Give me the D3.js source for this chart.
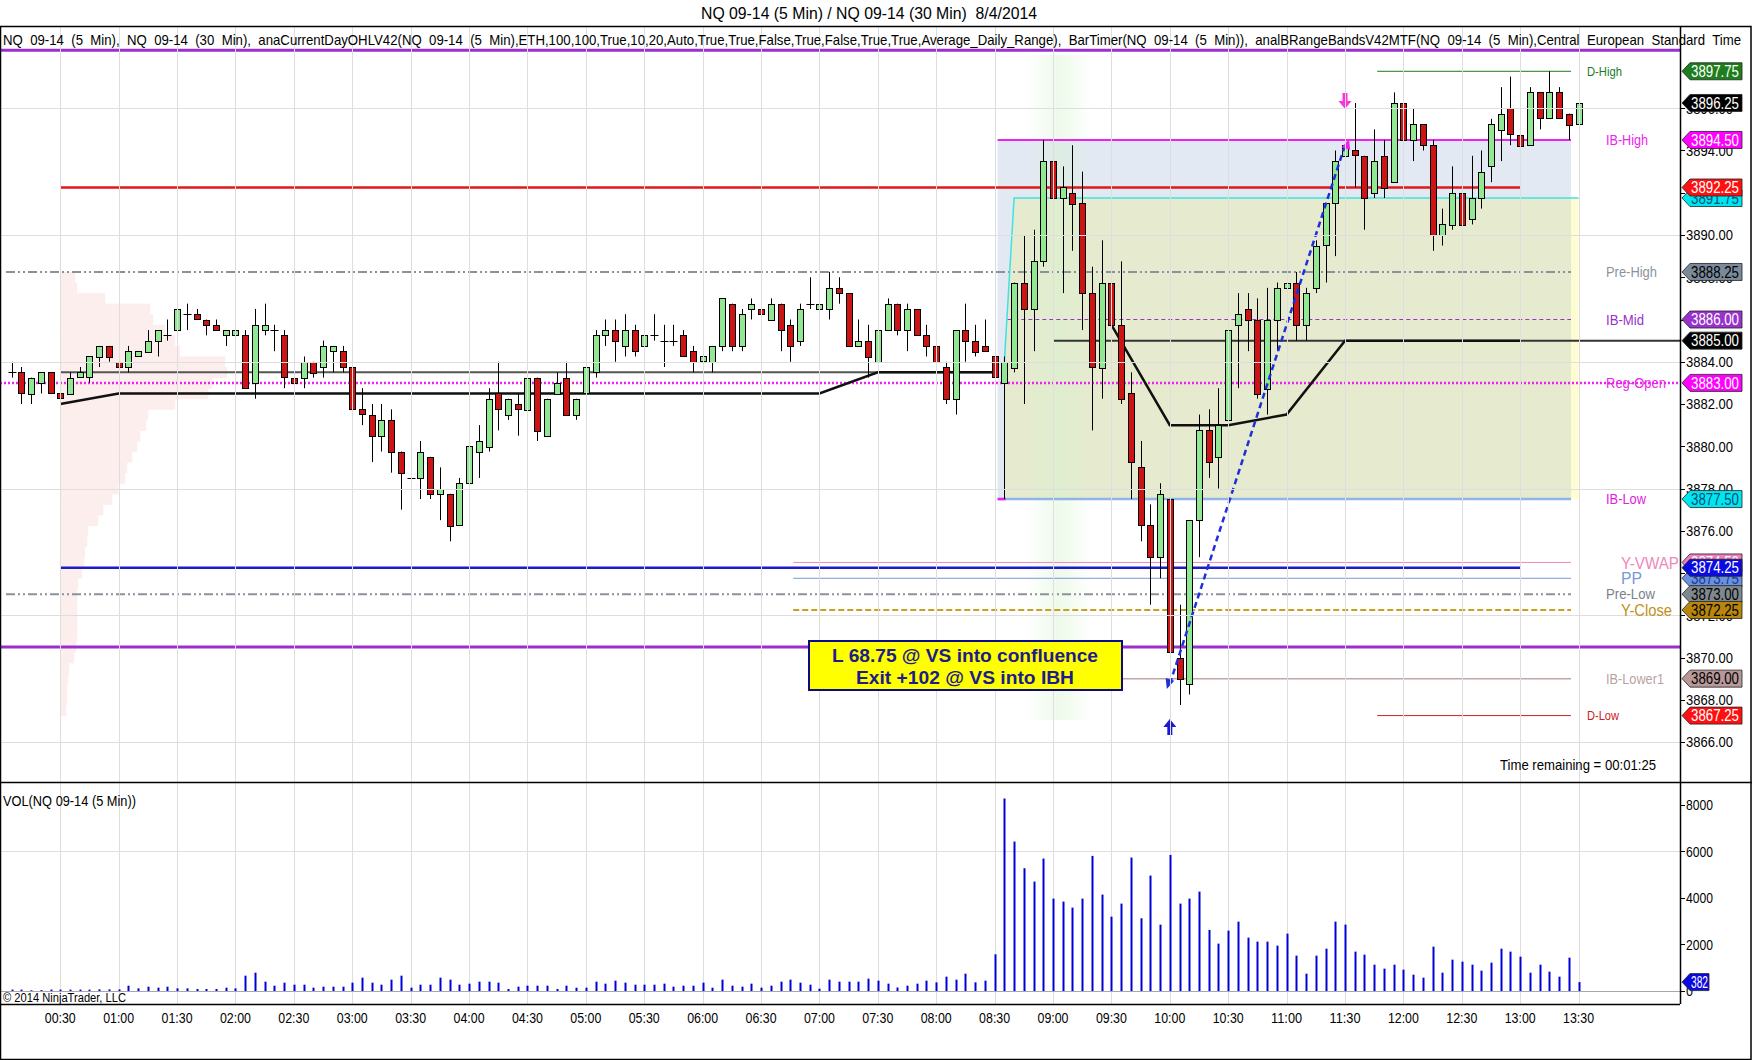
<!DOCTYPE html>
<html><head><meta charset="utf-8">
<script src="https://cdnjs.cloudflare.com/ajax/libs/d3/7.8.5/d3.min.js"></script>
<style>
html,body{margin:0;padding:0;background:#fff;}
svg{display:block;}
text{font-family:"Liberation Sans Narrow","Arial Narrow","Liberation Sans",Arial,sans-serif;}
</style></head><body>
<svg id="chart" width="1752" height="1060"></svg>
<script>
// ---------------- DATA ----------------
const times = [
"00:05","00:10","00:15","00:20","00:25","00:30","00:35","00:40","00:45","00:50","00:55","01:00",
"01:05","01:10","01:15","01:20","01:25","01:30","01:35","01:40","01:45","01:50","01:55","02:00",
"02:05","02:10","02:15","02:20","02:25","02:30","02:35","02:40","02:45","02:50","02:55","03:00",
"03:05","03:10","03:15","03:20","03:25","03:30","03:35","03:40","03:45","03:50","03:55","04:00",
"04:05","04:10","04:15","04:20","04:25","04:30","04:35","04:40","04:45","04:50","04:55","05:00",
"05:05","05:10","05:15","05:20","05:25","05:30","05:35","05:40","05:45","05:50","05:55","06:00",
"06:05","06:10","06:15","06:20","06:25","06:30","06:35","06:40","06:45","06:50","06:55","07:00",
"07:05","07:10","07:15","07:20","07:25","07:30","07:35","07:40","07:45","07:50","07:55","08:00",
"08:05","08:10","08:15","08:20","08:25","08:30","08:35","08:40","08:45","08:50","08:55","09:00",
"09:05","09:10","09:15","09:20","09:25","09:30","09:35","09:40","09:45","09:50","09:55","10:00",
"10:05","10:10","10:15","10:20","10:25","10:30","10:35","10:40","10:45","10:50","10:55","11:00",
"11:05","11:10","11:15","11:20","11:25","11:30","11:35","11:40","11:45","11:50","11:55","12:00",
"12:05","12:10","12:15","12:20","12:25","12:30","12:35","12:40","12:45","12:50","12:55","13:00",
"13:05","13:10","13:15","13:20","13:25","13:30"];

const open = [
3883.5,3883.5,3882.5,3883.0,3883.5,3882.5,3882.5,3883.25,3883.25,3884.25,3884.75,3884.0,
3883.75,3884.25,3884.5,3885.0,3885.25,3885.5,3886.25,3886.25,3886.0,3885.75,3885.25,3885.25,
3885.25,3883.0,3885.5,3885.5,3885.25,3883.25,3883.25,3884.0,3883.75,3884.5,3884.5,3883.75,
3881.75,3881.5,3880.5,3881.25,3879.75,3878.5,3878.5,3879.5,3877.75,3877.75,3876.25,3878.25,
3879.75,3880.0,3882.5,3881.5,3882.0,3881.75,3883.25,3880.5,3882.5,3883.25,3881.5,3882.5,
3883.5,3885.25,3885.5,3884.75,3885.5,3884.75,3885.25,3885.0,3885.0,3885.25,3884.5,3884.0,
3884.0,3884.75,3886.75,3884.75,3886.5,3886.5,3886.0,3886.75,3885.75,3885.0,3886.75,3886.5,
3886.5,3887.5,3887.25,3884.75,3885.0,3884.0,3885.5,3886.75,3885.5,3886.5,3885.25,3884.75,
3883.75,3882.25,3885.5,3885.0,3884.75,3884.25,3883.0,3883.75,3887.75,3886.5,3888.75,3893.5,
3891.75,3892.0,3891.5,3887.25,3883.75,3887.75,3885.75,3882.5,3879.0,3876.25,3874.75,3877.5,
3870.0,3868.75,3876.5,3880.75,3879.5,3881.25,3885.75,3886.5,3886.0,3882.75,3886.0,3887.5,
3887.75,3885.75,3887.5,3889.5,3891.5,3893.75,3894.0,3893.75,3892.0,3893.75,3892.5,3896.25,
3894.5,3895.25,3894.25,3890.0,3890.5,3892.0,3890.75,3891.75,3893.25,3895.0,3896.0,3894.75,
3894.25,3896.75,3895.5,3896.75,3895.75,3895.25];

const high = [
3884.0,3883.75,3883.25,3883.5,3883.5,3882.75,3883.5,3883.75,3884.25,3884.75,3884.75,3884.0,
3884.75,3884.5,3885.5,3885.5,3886.0,3886.75,3886.75,3886.5,3886.0,3886.0,3885.5,3885.75,
3885.5,3886.5,3886.75,3885.75,3885.5,3883.75,3884.25,3884.0,3885.0,3884.75,3884.75,3883.75,
3882.75,3882.0,3882.0,3881.75,3879.75,3879.5,3880.25,3879.5,3879.0,3877.75,3878.5,3880.25,
3881.0,3882.75,3884.0,3882.25,3882.5,3883.25,3883.25,3882.25,3883.5,3884.0,3882.25,3884.0,
3885.5,3886.0,3886.0,3886.25,3885.75,3886.0,3886.25,3885.75,3885.75,3885.5,3884.75,3884.5,
3884.75,3887.0,3886.75,3886.5,3887.0,3887.0,3887.0,3886.75,3886.0,3886.75,3888.0,3887.25,
3888.25,3888.0,3887.25,3886.0,3885.75,3885.5,3887.0,3886.75,3886.75,3886.5,3885.75,3885.0,
3884.0,3885.5,3886.75,3885.75,3886.0,3886.0,3884.25,3887.75,3890.0,3890.25,3894.5,3893.75,
3893.25,3894.25,3893.0,3888.5,3889.75,3890.5,3888.75,3883.5,3880.25,3877.25,3878.25,3877.5,
3872.5,3876.5,3881.5,3881.75,3882.75,3886.5,3887.25,3887.25,3887.0,3887.5,3887.75,3890.0,
3888.25,3887.5,3889.75,3891.5,3894.0,3895.75,3896.25,3893.75,3895.0,3894.5,3896.75,3896.5,
3896.0,3895.25,3894.5,3891.25,3893.25,3894.0,3893.75,3894.0,3895.5,3897.0,3897.5,3895.25,
3897.0,3896.75,3897.75,3897.0,3895.75,3896.5];

const low = [
3883.25,3882.0,3882.0,3882.5,3882.5,3882.25,3882.5,3883.25,3883.0,3883.75,3884.0,3883.5,
3883.5,3884.25,3884.5,3884.25,3885.0,3885.25,3885.5,3886.0,3885.25,3885.5,3884.75,3885.0,
3882.75,3882.25,3885.25,3884.5,3882.75,3882.25,3882.75,3883.25,3883.25,3883.5,3883.5,3881.25,
3881.0,3879.25,3879.75,3878.75,3877.0,3878.25,3877.5,3877.5,3876.5,3875.5,3876.25,3877.75,
3878.5,3879.75,3880.75,3881.25,3880.5,3881.75,3880.25,3880.5,3882.5,3881.5,3881.25,3882.5,
3883.25,3884.75,3884.0,3884.25,3884.25,3884.75,3885.0,3883.75,3884.75,3884.25,3883.5,3882.5,
3883.5,3884.5,3884.5,3884.5,3886.0,3886.0,3886.0,3884.5,3884.0,3884.75,3886.5,3886.5,
3886.0,3886.75,3884.75,3884.75,3883.25,3883.5,3885.5,3885.25,3884.5,3885.25,3884.25,3884.0,
3882.0,3881.5,3884.0,3884.25,3884.5,3883.25,3877.5,3883.5,3882.0,3884.5,3888.5,3889.5,
3887.25,3889.25,3885.5,3880.75,3882.25,3885.5,3882.0,3877.5,3875.5,3872.5,3873.75,3867.25,
3867.75,3868.25,3874.75,3878.5,3878.0,3880.75,3882.75,3884.5,3882.25,3881.5,3884.5,3886.75,
3885.0,3885.0,3887.25,3887.75,3889.0,3892.25,3892.25,3890.25,3891.75,3891.75,3892.5,3893.75,
3893.5,3894.0,3889.25,3889.5,3890.25,3890.25,3890.5,3891.25,3892.5,3893.5,3894.25,3892.75,
3894.25,3895.0,3895.5,3895.5,3894.5,3895.25];

const close = [
3883.5,3882.5,3883.25,3883.5,3882.5,3882.25,3883.25,3883.5,3884.25,3884.75,3884.25,3883.75,
3884.5,3884.5,3885.0,3885.5,3885.25,3886.5,3886.25,3886.0,3885.75,3885.5,3885.5,3885.5,
3882.75,3885.75,3885.75,3885.5,3883.25,3883.0,3884.0,3883.5,3884.75,3884.75,3883.75,3881.75,
3881.5,3880.5,3881.25,3879.75,3878.75,3878.5,3879.75,3877.75,3878.0,3876.25,3878.25,3880.0,
3880.25,3882.25,3881.75,3882.25,3881.75,3883.25,3880.75,3882.25,3883.0,3881.5,3882.25,3883.75,
3885.25,3885.5,3885.0,3885.5,3884.5,3885.25,3885.25,3885.0,3885.0,3884.25,3884.0,3884.25,
3884.75,3887.0,3884.75,3886.25,3886.75,3886.25,3886.75,3885.5,3884.75,3886.5,3886.75,3886.75,
3887.5,3887.25,3884.75,3885.0,3884.25,3885.5,3886.75,3885.5,3886.5,3885.25,3884.75,3884.0,
3882.25,3885.5,3885.0,3884.5,3884.5,3883.25,3884.0,3887.75,3886.5,3888.75,3893.5,3891.75,
3892.25,3891.5,3887.25,3883.75,3887.75,3885.75,3882.25,3879.25,3876.25,3874.75,3877.75,3870.25,
3869.0,3876.5,3880.75,3879.25,3881.0,3885.5,3886.25,3886.0,3882.5,3886.0,3887.5,3887.75,
3885.75,3887.25,3889.5,3891.5,3893.5,3894.25,3893.75,3891.75,3893.5,3892.25,3896.25,3894.5,
3895.25,3894.25,3890.0,3890.5,3892.0,3890.5,3891.75,3893.0,3895.25,3895.75,3894.75,3894.25,
3896.75,3895.5,3896.75,3895.5,3895.25,3896.25];

const volume = [
60,60,30,40,60,60,60,60,60,70,70,70,
229,114,186,143,186,114,114,86,86,86,143,114,
658,787,401,229,358,272,272,143,186,186,186,358,
572,358,272,487,658,143,272,272,572,487,272,315,
401,401,358,86,186,229,229,229,86,229,143,143,
401,315,444,358,272,272,272,315,186,229,229,358,
143,487,229,186,315,143,229,401,487,358,272,100,
487,401,401,401,529,444,315,150,229,315,444,372,
615,487,744,372,444,1574,8257,6411,5266,4694,5681,3964,
3835,3578,3964,5796,4136,3191,3749,5724,3120,4951,2848,5838,
3749,3964,4264,2619,2032,2590,2976,2290,2118,2118,1946,2461,
1517,744,1517,1817,2976,2848,1689,1560,1130,959,1130,916,
701,572,1903,787,1345,1259,1130,873,1216,1817,1689,1474,
787,1130,830,615,1431,382];

const timeLabels = ["00:30","01:00","01:30","02:00","02:30","03:00","03:30","04:00","04:30","05:00",
"05:30","06:00","06:30","07:00","07:30","08:00","08:30","09:00","09:30","10:00","10:30","11:00",
"11:30","12:00","12:30","13:00","13:30"];
const priceTicks = [3866,3868,3870,3872,3874,3876,3878,3880,3882,3884,3886,3888,3890,3892,3894,3896];
const priceGrid = [3866,3872,3878,3884,3890,3896];
const volTicks = [0,2000,4000,6000,8000];
const volGrid = [6000];

// key levels (name, price)
const levelNames  = ["D-High","IB-High","Pre-High","IB-Mid","Reg-Open","IB-Low","Y-VWAP","PP","Pre-Low","Y-Close","IB-Lower1","D-Low"];
const levelPrices = [3897.75,3894.50,3888.25,3886.00,3883.00,3877.50,3874.50,3873.75,3873.00,3872.25,3869.00,3867.25];
const ibHigh = 3894.50, ibLow = 3877.50, ibBand = 3891.75, ibBandStart = 3884.0;
const tf30Prices = [3892.25, 3874.25];            // red / blue 30-min lines
const adrPrices = [3898.75, 3870.50];             // purple ADR lines
const pivotLine = 3885.00;
const lineATimes = ["00:30","01:00","07:00","07:30","08:30"], lineAValues = [3882.0,3882.5,3882.5,3883.5,3883.5];
const lineBTimes = ["00:30","08:30"], lineBValues = [3883.5,3883.5];
const lineCTimes = ["09:30","10:00","10:30","11:00","11:30","13:00"], lineCValues = [3885.75,3881.0,3881.0,3881.5,3885.0,3885.0];
const tradeTimes = ["10:00","11:30"], tradePrices = [3868.75,3894.25];
const profilePrices = [3888,3887.5,3887,3886.5,3886,3885.5,3885,3884.5,3884,3883.5,3883,3882.5,3882,3881.5,3881,
 3880.5,3880,3879.5,3879,3878.5,3878,3877.5,3877,3876.5,3876,3875.5,3875,3874.5,3874,3873.5,3873,3872.5,3872,
 3871.5,3871,3870.5,3870,3869.5,3869,3868.5,3868,3867.5];
const profileVolume = [15,17,45,90,93,105,115,120,165,167,152,148,115,88,86,80,77,72,67,65,58,52,43,38,28,27,25,24,22,18,
 17,17,17,17,17,16,14,9,8,7,7,6];
const tagPrices = [3897.75,3896.25,3894.50,3891.75,3892.25,3888.25,3886.00,3885.00,3883.00,3877.50,3874.50,3873.75,3874.25,3873.00,3872.25,3869.00,3867.25];
const lastVolume = 382;
const noteLines = ["L 68.75 @ VS into confluence","Exit +102 @ VS into IBH"];

// ---------------- STYLE / LAYOUT ----------------
const W = 1752, H = 1060;
const axisX = 1680, topY = 27, priceBot = 782, volBot = 1004;
const levelStyle = {
 "D-High":   {c:"#1e7a1e", w:1, lx:1587, fs:12, len:35, start:"11:45"},
 "IB-High":  {c:"#ee22ee", w:2, lx:1606, fs:15, len:42, start:"08:30"},
 "Pre-High": {c:"#8a939c", w:2, lx:1606, fs:15, len:51, dash:"9,3,2,3,2,3", start:null},
 "IB-Mid":   {c:"#9932cc", w:1, lx:1606, fs:15, len:38, dash:"4,3", start:"08:35"},
 "Reg-Open": {c:"#ee22ee", w:2.5, lx:1606, fs:15, len:60, dash:"2,2", start:null, full:true},
 "IB-Low":   {c:"#8fb4ea", w:2.5, lx:1606, fs:15, len:40, start:"08:30", lc:"#dd22dd"},
 "Y-VWAP":   {c:"#ee88bb", w:1, lx:1621, fs:17, len:58, start:"06:45"},
 "PP":       {c:"#7898d8", w:1, lx:1621, fs:17, len:21, start:"06:45"},
 "Pre-Low":  {c:"#8a939c", w:2, lx:1606, fs:14, len:49, dash:"9,3,2,3,2,3", start:null, lc:"#7a8088"},
 "Y-Close":  {c:"#c8a020", w:2, lx:1621, fs:17, len:51, dash:"6,3", start:"06:45", lc:"#c09020"},
 "IB-Lower1":{c:"#c4a4a4", w:1.5, lx:1606, fs:15, len:58, start:"08:30", lc:"#b8a2a2"},
 "D-Low":    {c:"#cc2020", w:1, lx:1587, fs:12, len:32, start:"11:45"}
};
const tagStyle = {
 "3897.75":["#1e7e1e","#fff"], "3896.25":["#000","#fff"], "3894.50":["#ff00ff","#fff"],
 "3891.75":["#00e6ee","#0b4f7a"], "3892.25":["#ff1010","#fff"], "3888.25":["#7a8a9a","#000"],
 "3886.00":["#9932cc","#fff"], "3885.00":["#000","#fff"], "3883.00":["#ff00ff","#fff"],
 "3877.50":["#00e6ee","#0b4a7a"], "3874.50":["#f07cbc","#fff"], "3873.75":["#6a90e0","#1a3a8a"],
 "3874.25":["#0b0be0","#fff"], "3873.00":["#80888f","#000"], "3872.25":["#b8860b","#000"],
 "3869.00":["#b89898","#000"], "3867.25":["#ff1010","#fff"]
};

(function draw(){
const svg = d3.select("#chart");
const n = times.length;
const x = d3.scaleLinear().domain([0, n-1]).range([11.6, 1578.6]);
const xt = t => x(times.indexOf(t));
const y = d3.scaleLinear().domain([3866, 3890]).range([742, 235]);
const yv = d3.scaleLinear().domain([0, 8000]).range([991, 804.5]);
const xEnd = x(n-1) - 7.6;
const px = v => Math.round(v) + 0.5;
function txt(g, xx, yy, s, fs, len, anchor, fill) {
  const t = g.append("text").attr("x", xx).attr("y", yy).attr("dy", "0.36em").attr("font-size", fs)
   .attr("fill", fill || "#000").attr("text-anchor", anchor || "start").style("white-space", "pre").text(s);
  if (len) t.attr("textLength", len).attr("lengthAdjust", "spacingAndGlyphs");
  return t;
}

svg.append("rect").attr("width", W).attr("height", H).attr("fill", "#fff");
svg.append("defs").html(`
 <clipPath id="pclip"><rect x="0" y="${topY}" width="${axisX}" height="${priceBot-topY}"/></clipPath>
 <linearGradient id="gband" x1="0" x2="1" y1="0" y2="0">
  <stop offset="0" stop-color="#d4f2cc" stop-opacity="0"/>
  <stop offset="0.5" stop-color="#d4f2cc" stop-opacity="0.4"/>
  <stop offset="1" stop-color="#d4f2cc" stop-opacity="0"/>
 </linearGradient>`);

const P = svg.append("g").attr("clip-path", "url(#pclip)");

// volume profile (pink)
const prof = d3.scaleLinear().domain([0, 167]).range([0, 167]);
P.append("g").selectAll("rect").data(profilePrices).join("rect")
 .attr("x", xt("00:30")).attr("y", d => y(d + 0.25))
 .attr("width", (d, i) => prof(profileVolume[i])).attr("height", d => y(d - 0.25) - y(d + 0.25) + 0.5)
 .attr("fill", "#fdeeee");

// IB box
P.append("rect").attr("x", xt("08:30") + 3).attr("y", y(ibHigh)).attr("width", xEnd - xt("08:30") - 3)
 .attr("height", y(ibLow) - y(ibHigh)).attr("fill", "#e3e9f3");
const bx0 = xt("08:35"), bx1 = xt("08:40");
P.append("path").attr("d", `M${bx0},${y(ibLow)}L${bx0},${y(ibBandStart)}L${bx1},${y(ibBand)}L${xEnd},${y(ibBand)}L${xEnd},${y(ibLow)}Z`)
 .attr("fill", "#e6ebcf");
P.append("rect").attr("x", xEnd).attr("y", y(ibBand)).attr("width", x(n-1) - xEnd).attr("height", y(ibLow) - y(ibBand))
 .attr("fill", "#fdfcd2");
// green column
P.append("rect").attr("x", 1026).attr("y", 55).attr("width", 66).attr("height", 665).attr("fill", "url(#gband)");

// grid
const G = svg.append("g");
G.selectAll(".vg").data(timeLabels).join("line")
 .attr("x1", d => px(xt(d))).attr("x2", d => px(xt(d))).attr("y1", topY).attr("y2", volBot)
 .attr("stroke", "#dedede").attr("stroke-width", 1);
G.selectAll(".hg").data(priceGrid).join("line")
 .attr("x1", 0).attr("x2", axisX).attr("y1", d => px(y(d))).attr("y2", d => px(y(d)))
 .attr("stroke", "#dedede");
G.selectAll(".vvg").data(volGrid).join("line")
 .attr("x1", 0).attr("x2", axisX).attr("y1", d => px(yv(d))).attr("y2", d => px(yv(d)))
 .attr("stroke", "#dedede");
G.append("line").attr("x1", 0).attr("x2", axisX).attr("y1", px(yv(0))).attr("y2", px(yv(0))).attr("stroke", "#a8a8a8");

// ADR purple lines
P.selectAll(".adr").data(adrPrices).join("line")
 .attr("x1", 0).attr("x2", axisX).attr("y1", d => y(d)).attr("y2", d => y(d))
 .attr("stroke", "#9a2fd0").attr("stroke-width", 3);

// 30-min red/blue lines
P.selectAll(".tf").data(tf30Prices).join("line")
 .attr("x1", xt("00:30")).attr("x2", xt("13:00")).attr("y1", d => y(d)).attr("y2", d => y(d))
 .attr("stroke", (d, i) => i === 0 ? "#e01818" : "#1c1ccc").attr("stroke-width", 2.5);

// key level lines
levelNames.forEach((nm, i) => {
  const s = levelStyle[nm], p = levelPrices[i];
  const x1 = s.full ? 0 : (s.start ? xt(s.start) + 3 : 6);
  const x2 = s.full ? axisX : xEnd;
  P.append("line").attr("x1", x1).attr("x2", x2).attr("y1", y(p)).attr("y2", y(p))
   .attr("stroke", s.c).attr("stroke-width", s.w).attr("stroke-dasharray", s.dash || null);
  if (nm === "IB-Low") {
    P.append("line").attr("x1", x1).attr("x2", x1 + 8).attr("y1", y(p)).attr("y2", y(p))
     .attr("stroke", "#ee22ee").attr("stroke-width", 2.5);
  }
});
// IB band cyan line
P.append("path").attr("d", `M${bx0},${y(ibBandStart)}L${bx1},${y(ibBand)}L${x(n-1)},${y(ibBand)}`)
 .attr("fill", "none").attr("stroke", "#3ee2e2").attr("stroke-width", 1.5);

// pivot line
P.append("line").attr("x1", xt("09:00")).attr("x2", axisX).attr("y1", y(pivotLine)).attr("y2", y(pivotLine))
 .attr("stroke", "#333").attr("stroke-width", 2);
// 30-min polylines
const lineGen = d3.line().x(d => d[0]).y(d => d[1]);
P.append("path").attr("d", lineGen(lineBTimes.map((t, i) => [xt(t), y(lineBValues[i])])))
 .attr("fill", "none").attr("stroke", "#555").attr("stroke-width", 2);
P.append("path").attr("d", lineGen(lineATimes.map((t, i) => [xt(t), y(lineAValues[i])])))
 .attr("fill", "none").attr("stroke", "#111").attr("stroke-width", 2.5);
P.append("path").attr("d", lineGen(lineCTimes.map((t, i) => [xt(t), y(lineCValues[i])])))
 .attr("fill", "none").attr("stroke", "#111").attr("stroke-width", 2.5);

// candles
const C = P.append("g");
d3.range(n).forEach(i => {
  const cx = px(x(i));
  C.append("line").attr("x1", cx).attr("x2", cx).attr("y1", y(high[i])).attr("y2", y(low[i]))
   .attr("stroke", "#000").attr("stroke-width", 1);
  if (open[i] === close[i]) {
    C.append("line").attr("x1", cx - 4).attr("x2", cx + 4).attr("y1", px(y(open[i]))).attr("y2", px(y(open[i])))
     .attr("stroke", "#000").attr("stroke-width", 1);
  } else {
    const t = Math.min(y(open[i]), y(close[i])), b = Math.max(y(open[i]), y(close[i]));
    C.append("rect").attr("x", cx - 3).attr("y", Math.round(t) + 0.5).attr("width", 6)
     .attr("height", Math.max(1, Math.round(b - t)))
     .attr("fill", close[i] > open[i] ? "#92e892" : "#cc1414").attr("stroke", "#000").attr("stroke-width", 1);
  }
});

// trade line
const tx0 = xt(tradeTimes[0]), ty0 = y(tradePrices[0]), tx1 = xt(tradeTimes[1]), ty1 = y(tradePrices[1]);
P.append("line").attr("x1", tx0).attr("y1", ty0).attr("x2", tx1).attr("y2", ty1)
 .attr("stroke", "#1f2fdc").attr("stroke-width", 2.5).attr("stroke-dasharray", "6,4");
const ang = Math.atan2(ty1 - ty0, tx1 - tx0);
function head(xx, yy, a, col) {
  const L = 10, Wd = 4.5;
  const p1 = [xx - L * Math.cos(a) + Wd * Math.sin(a), yy - L * Math.sin(a) - Wd * Math.cos(a)];
  const p2 = [xx - L * Math.cos(a) - Wd * Math.sin(a), yy - L * Math.sin(a) + Wd * Math.cos(a)];
  P.append("path").attr("d", `M${xx},${yy}L${p1}L${p2}Z`).attr("fill", col);
}
head(tx0 - 3, ty0 + 5, ang + Math.PI, "#1f2fdc");
head(tx1 + 4, ty1 - 6, ang, "#ee22ee");
// signal arrows
function arrow(xx, yTip, s, col) {
  P.append("path").attr("d",
    `M${xx},${yTip}L${xx-6.5},${yTip - s*8}L${xx-2.5},${yTip - s*8}L${xx-2.5},${yTip - s*16}L${xx+2.5},${yTip - s*16}L${xx+2.5},${yTip - s*8}L${xx+6.5},${yTip - s*8}Z`)
   .attr("fill", col);
}
arrow(xt("11:30"), 109, 1, "#ff33dd");
arrow(xt("10:00"), 719, -1, "#1a1acc");

// level labels
levelNames.forEach((nm, i) => {
  const s = levelStyle[nm];
  txt(svg, s.lx, y(levelPrices[i]), nm, s.fs, s.len, "start", s.lc || s.c);
});

// annotation
const note = svg.append("g");
note.append("rect").attr("x", 809).attr("y", 641).attr("width", 313).attr("height", 49)
 .attr("fill", "#ffff00").attr("stroke", "#0a0a8a").attr("stroke-width", 2);
noteLines.forEach((t, i) => {
  txt(note, 965, 655 + i * 22, t, 19, i === 0 ? 266 : 218, "middle", "#1c1c8c")
   .attr("font-weight", "bold").style("font-family", "'Liberation Sans',Arial,sans-serif");
});

txt(svg, 1656, 765, "Time remaining = 00:01:25", 15, 156, "end");

// volume bars
svg.append("g").selectAll("line").data(volume).join("line")
 .attr("x1", (d, i) => px(x(i))).attr("x2", (d, i) => px(x(i)))
 .attr("y1", yv(0)).attr("y2", d => yv(d)).attr("stroke", "#0000d8").attr("stroke-width", 2);

// frame
const F = svg.append("g").attr("fill", "none").attr("stroke", "#000");
F.append("rect").attr("x", 0.5).attr("y", topY - 0.5).attr("width", W - 1.5).attr("height", H - topY).attr("stroke-width", 1.5);
F.append("line").attr("x1", 0).attr("x2", W).attr("y1", priceBot + 0.5).attr("y2", priceBot + 0.5).attr("stroke-width", 1.5);
F.append("line").attr("x1", 0).attr("x2", axisX).attr("y1", volBot + 0.5).attr("y2", volBot + 0.5).attr("stroke-width", 1.5);
F.append("line").attr("x1", axisX + 0.5).attr("x2", axisX + 0.5).attr("y1", topY).attr("y2", volBot).attr("stroke-width", 1.5);

// price axis
const A = svg.append("g");
priceTicks.forEach(p => {
  A.append("line").attr("x1", axisX).attr("x2", axisX + 5).attr("y1", px(y(p))).attr("y2", px(y(p))).attr("stroke", "#000");
  txt(A, axisX + 6, y(p), p.toFixed(2), 15, 47);
});
volTicks.forEach(v => {
  A.append("line").attr("x1", axisX).attr("x2", axisX + 5).attr("y1", px(yv(v))).attr("y2", px(yv(v))).attr("stroke", "#000");
  txt(A, axisX + 6, yv(v), String(v), 15, v ? 27 : 7);
});
function tag(yc, label, fill, tc, w, len) {
  const x0 = axisX + 2, hh = 8.5, x2 = x0 + (w || 60);
  A.append("path").attr("d", `M${x0},${yc}L${x0+8},${yc-hh}L${x2},${yc-hh}L${x2},${yc+hh}L${x0+8},${yc+hh}Z`)
   .attr("fill", fill).attr("stroke", "#222").attr("stroke-width", 0.8);
  txt(A, x0 + 9, yc, label, 16, len || 48, "start", tc);
}
tagPrices.forEach(p => { const s = tagStyle[p.toFixed(2)]; tag(y(p), p.toFixed(2), s[0], s[1]); });
tag(yv(lastVolume), String(lastVolume), "#0b0be0", "#fff", 27, 17);

// x axis labels
timeLabels.forEach(d => txt(svg, xt(d), 1018, d, 15, 31, "middle"));

// texts
txt(svg, 869, 13, "NQ 09-14 (5 Min) / NQ 09-14 (30 Min)  8/4/2014", 17, 336, "middle");
txt(svg, 3, 40, "NQ  09-14  (5  Min),  NQ  09-14  (30  Min),  anaCurrentDayOHLV42(NQ  09-14  (5  Min),ETH,100,100,True,10,20,Auto,True,True,False,True,False,True,True,Average_Daily_Range),  BarTimer(NQ  09-14  (5  Min)),  analBRangeBandsV42MTF(NQ  09-14  (5  Min),Central  European  Standard  Time", 15, 1738);
txt(svg, 3, 801, "VOL(NQ 09-14 (5 Min))", 15, 133);
txt(svg, 3, 998, "© 2014 NinjaTrader, LLC", 12, 123);
})();
</script>
</body></html>
